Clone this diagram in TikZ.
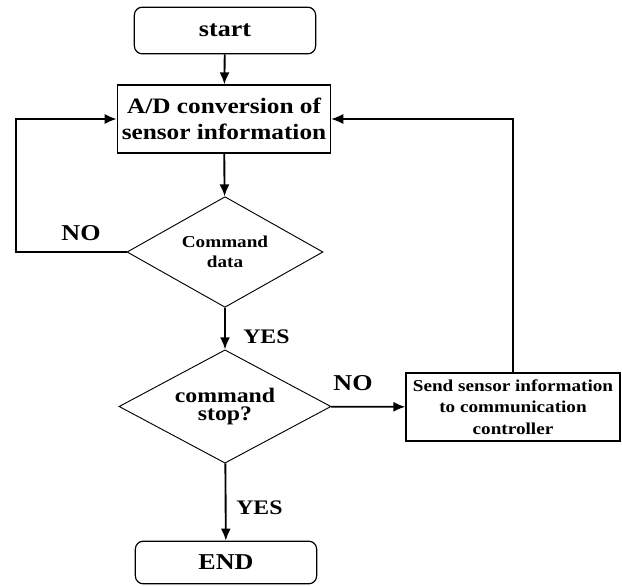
\documentclass[tikz,border=0pt]{standalone}
\usepackage{fontspec}
\setmainfont{Liberation Serif}[FakeStretch=1.15]
\usetikzlibrary{arrows.meta,shapes.geometric}
\begin{document}
\begin{tikzpicture}[x=0.75pt,y=-0.75pt,
  box/.style={draw,line width=0.9pt,inner sep=0pt,align=center,font=\bfseries},
  term/.style={box,rounded corners=6pt},
  dec/.style={draw,line width=0.7pt,diamond,aspect=2,inner sep=0pt,align=center,font=\bfseries},
  flow/.style={line width=1.4pt,-{Latex[length=9pt,width=7.5pt]}},
  lab/.style={font=\bfseries\fontsize{16}{18}\selectfont,inner sep=0pt}]
\useasboundingbox (0,0) rectangle (622,586);
\node[term,minimum width=136pt,minimum height=35pt,font=\bfseries\fontsize{17}{19}\selectfont] (start) at (225,30.5) {start};
\node[box,minimum width=160pt,minimum height=51pt,font=\bfseries\fontsize{16.5}{20}\selectfont] (ad) at (224,119) {A/D conversion of\\sensor information};
\node[dec,minimum width=147pt,minimum height=83pt,font=\bfseries\fontsize{12.5}{15}\selectfont] (d1) at (225,252) {Command\\data};
\node[dec,minimum width=159pt,minimum height=85pt,font=\bfseries\fontsize{15.5}{14}\selectfont] (d2) at (225,406.5) {command\\stop?};
\node[box,minimum width=160.5pt,minimum height=51pt,font=\bfseries\fontsize{12.5}{16}\selectfont] (send) at (513,407) {Send sensor information\\to communication\\controller};
\node[term,minimum width=136pt,minimum height=32pt,font=\bfseries\fontsize{17}{19}\selectfont] (end) at (226,562.5) {END};
\coordinate (lc) at (16,252);
\draw[flow] (start) -- (ad);
\draw[flow] (ad) -- (d1);
\draw[flow] (d1) -- (d2);
\draw[flow] (d2) -- (end);
\draw[flow] (d2) -- (send);
\draw[flow] (d1.west) -- (lc) |- (ad.west);
\draw[line width=0.9pt,-{Latex[length=9pt,width=7.5pt]}] (send.north) |- (ad.east);
\node[lab,font=\bfseries\fontsize{17}{19}\selectfont] (no1) at (81,233) {NO};
\node[lab,anchor=west,font=\bfseries\fontsize{15.5}{18}\selectfont] (yes1) at (243,337) {YES};
\node[lab,font=\bfseries\fontsize{17}{19}\selectfont] (no2) at (353,383) {NO};
\node[lab,anchor=west,font=\bfseries\fontsize{15.5}{18}\selectfont] (yes2) at (236,508) {YES};
\end{tikzpicture}
\end{document}
